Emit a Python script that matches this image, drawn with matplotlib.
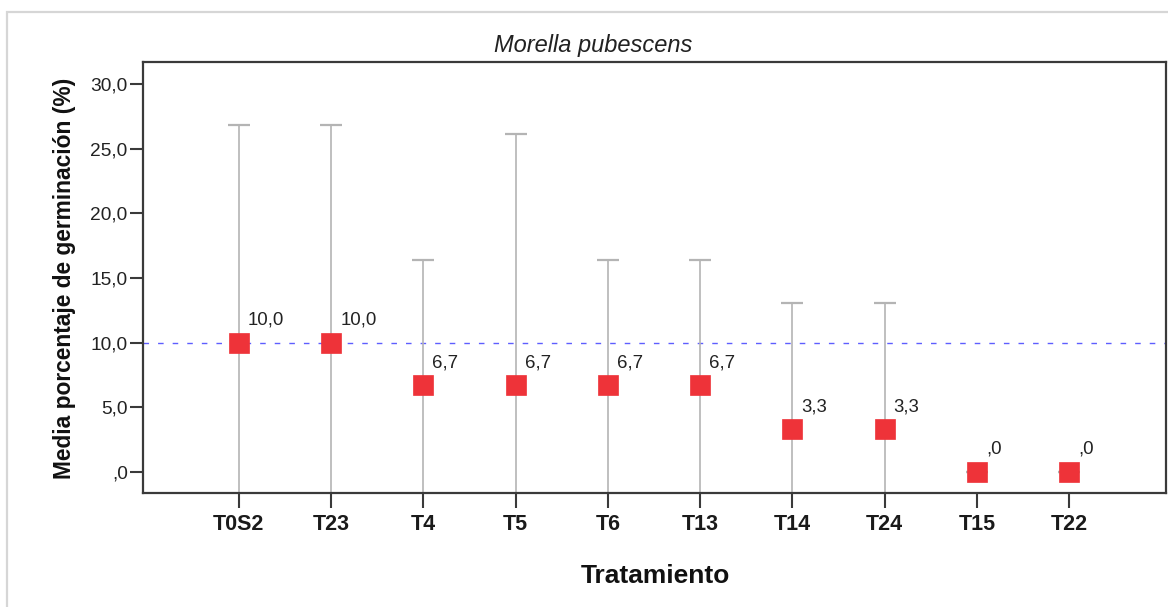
import matplotlib
matplotlib.use("Agg")
import matplotlib.pyplot as plt
from matplotlib.patches import Rectangle


# germination data (mean and 95% CI per treatment)
treatments = ["T0S2", "T23", "T4", "T5", "T6", "T13", "T14", "T24", "T15", "T22"]
means = [10.0, 10.0, 6.7, 6.7, 6.7, 6.7, 3.3, 3.3, 0.0, 0.0]
ci_upper = [26.85, 26.85, 16.4, 26.1, 16.4, 16.4, 13.1, 13.1, 0.0, 0.0]
ci_lower = [-6.85, -6.85, -3.0, -12.7, -3.0, -3.0, -6.5, -6.5, 0.0, 0.0]
value_labels = ["10,0", "10,0", "6,7", "6,7", "6,7", "6,7", "3,3", "3,3", ",0", ",0"]
reference_mean = 10.0

y_ticks = [0, 5, 10, 15, 20, 25, 30]
y_tick_labels = [",0", "5,0", "10,0", "15,0", "20,0", "25,0", "30,0"]

plt.rcParams["font.family"] = ["Liberation Sans", "DejaVu Sans"]

W, H = 1168, 607
fig = plt.figure(figsize=(W / 100, H / 100), dpi=100)

# light frame around the chart panel
fig.patches.append(
    Rectangle(
        (7 / W, -0.1),
        1.2,
        1 - 12 / H + 0.1,
        transform=fig.transFigure,
        fill=False,
        edgecolor="#d6d6d6",
        linewidth=1.6,
        clip_on=False,
    )
)

ax = fig.add_axes([143 / W, (H - 493) / H, (1166 - 143) / W, (493 - 62) / H])

x = list(range(len(treatments)))
err_low = [m - lo for m, lo in zip(means, ci_lower)]
err_high = [hi - m for m, hi in zip(means, ci_upper)]

ax.axhline(
    reference_mean,
    color="#5e5eff",
    linewidth=1.0,
    linestyle=(0, (4, 6.5)),
    zorder=1,
)

ax.errorbar(
    x,
    means,
    yerr=[err_low, err_high],
    fmt="none",
    ecolor="#b4b4b4",
    elinewidth=1.2,
    capsize=8,
    capthick=1.6,
    zorder=2,
)

ax.plot(
    x,
    means,
    linestyle="none",
    marker="s",
    markersize=14.5,
    markerfacecolor="#ee3339",
    markeredgecolor="#ee3339",
    markeredgewidth=0.5,
    zorder=3,
)

for xi, m, lab in zip(x, means, value_labels):
    ax.annotate(
        lab,
        (xi, m),
        xytext=(6.5, 13),
        textcoords="offset points",
        ha="left",
        va="baseline",
        fontsize=13.4,
        color="#222222",
        zorder=4,
    )

ax.set_xlim(-1.04, 10.05)
ax.set_ylim(-1.62, 31.7)

ax.set_xticks(x)
ax.set_xticklabels(treatments, fontsize=15.5, fontweight="bold", color="#1a1a1a")
ax.set_yticks(y_ticks)
ax.set_yticklabels(y_tick_labels, fontsize=13.8, color="#222222")

ax.tick_params(axis="x", length=11, width=1.5, color="#3a3a3a", pad=4)
ax.tick_params(axis="y", length=9.5, width=1.5, color="#3a3a3a", pad=1.5)

for spine in ax.spines.values():
    spine.set_linewidth(1.6)
    spine.set_color("#3a3a3a")

fig.text(
    593 / W,
    1 - 52 / H,
    "Morella pubescens",
    ha="center",
    va="baseline",
    fontsize=17,
    fontstyle="italic",
    color="#222222",
)

fig.text(
    655 / W,
    1 - 583 / H,
    "Tratamiento",
    ha="center",
    va="baseline",
    fontsize=19,
    fontweight="bold",
    color="#111111",
)

fig.text(
    65 / W,
    1 - 278 / H,
    "Media porcentaje de germinación (%)",
    ha="center",
    va="center",
    rotation=90,
    fontsize=16.4,
    fontweight="bold",
    color="#111111",
)

fig.savefig("out.png", dpi=100)
plt.close(fig)
